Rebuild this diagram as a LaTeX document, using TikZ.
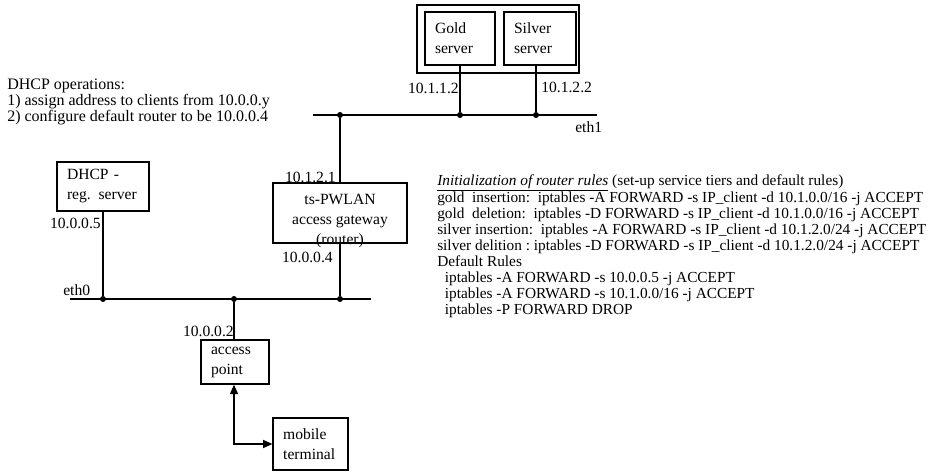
\documentclass[tikz,border=0pt]{standalone}
\usepackage{fontspec}
\setmainfont{Liberation Serif}
\usetikzlibrary{positioning, arrows.meta}

\tikzset{
  box/.style={draw, line width=1.1pt, inner xsep=7.5pt, align=left},
  lbl/.style={inner sep=0pt, font=\fontsize{11.7}{12}\selectfont},
  net/.style={line width=1.1pt},
  dot/.style={circle, fill, inner sep=0pt, minimum size=4.5pt},
}

\begin{document}
\begin{tikzpicture}[x=0.75pt, y=-0.75pt, font=\fontsize{11.7}{15}\selectfont]
\useasboundingbox (0,0) rectangle (928,473);

% servers
\node[box, text width=37.5pt, minimum height=39.75pt] (gold) at (460,38.5) {Gold\\server};
\node[box, text width=39pt, minimum height=39.75pt] (silver) at (540,38.5) {Silver\\server};
\node[draw, line width=1.1pt, minimum width=121.5pt, minimum height=51pt] (farm) at (498,39) {};

% eth1
\coordinate (eth1w) at (313,115);
\coordinate (eth1e) at (597,115);
\node[dot] (g1) at (460,115) {};
\node[dot] (s1) at (536,115) {};
\node[dot] (r1) at (340,115) {};
\draw[net] (eth1w) -- (eth1e);
\node[lbl, anchor=north west] at (575,121) {eth1};
\draw[net] (gold.south -| g1) -- (g1);
\draw[net] (silver.south -| s1) -- (s1);
\node[lbl, anchor=east] at (459,88) {10.1.1.2};
\node[lbl, anchor=west] at (541,87) {10.1.2.2};

% router
\node[draw, line width=1.1pt, minimum width=100.5pt, minimum height=45pt] (router) at (340,213) {};
\node[align=center, inner sep=0pt] (routertxt) at (340,221) {ts-PWLAN\\access gateway\\(router)};
\draw[net] (r1) -- (router.north -| r1);
\node[lbl, anchor=east] at (336,177) {10.1.2.1};
\node[lbl, anchor=east] at (333,257) {10.0.0.4};

% eth0
\coordinate (eth0w) at (70,299);
\coordinate (eth0e) at (371,299);
\node[dot] (d0) at (103,299) {};
\node[dot] (a0) at (234,299) {};
\node[dot] (r0) at (340,299) {};
\draw[net] (eth0w) -- (eth0e);
\node[lbl, anchor=south west] at (63,296) {eth0};
\draw[net] (router.south -| r0) -- (r0);

% dhcp
\node[box, text width=54pt, minimum height=36.75pt] (dhcp) at (103,186.5) {DHCP -\\reg. server};
\draw[net] (dhcp.south -| d0) -- (d0);
\node[lbl, anchor=east] at (101,223) {10.0.0.5};
\node[anchor=north west, align=left, inner sep=0pt, font=\fontsize{12}{12}\selectfont] (dhcpops) at (7,79) {DHCP operations:\\1) assign address to clients from 10.0.0.y\\2) configure default router to be 10.0.0.4};

% access point and terminal
\node[box, text width=36pt, minimum height=33pt] (ap) at (235,362) {access\\point};
\draw[net] (a0) -- (ap.north -| a0);
\node[lbl, anchor=east] at (234,331) {10.0.0.2};
\node[box, text width=41pt, minimum height=39pt] (mt) at (310.5,444) {mobile\\terminal};
\draw[net, {Triangle[length=7pt,width=6pt]}-{Triangle[length=7pt,width=6pt]}] (ap.south -| a0) |- (mt.west);

% rules
\node[anchor=north west, align=left, inner sep=0pt, font=\fontsize{11.5}{12}\selectfont] (rules) at (437,174) {%
\underline{\textit{Initialization of router rules}} (set-up service tiers and default rules)\\
gold\ \ insertion:\ \ iptables -A FORWARD -s IP\_client -d 10.1.0.0/16 -j ACCEPT\\
gold\ \ deletion:\ \ iptables -D FORWARD -s IP\_client -d 10.1.0.0/16 -j ACCEPT\\
silver insertion:\ \ iptables -A FORWARD -s IP\_client -d 10.1.2.0/24 -j ACCEPT\\
silver delition :\ iptables -D FORWARD -s IP\_client -d 10.1.2.0/24 -j ACCEPT\\
Default Rules\\
\ \ iptables -A FORWARD -s 10.0.0.5 -j ACCEPT\\
\ \ iptables -A FORWARD -s 10.1.0.0/16 -j ACCEPT\\
\ \ iptables -P FORWARD DROP};
\end{tikzpicture}
\end{document}
